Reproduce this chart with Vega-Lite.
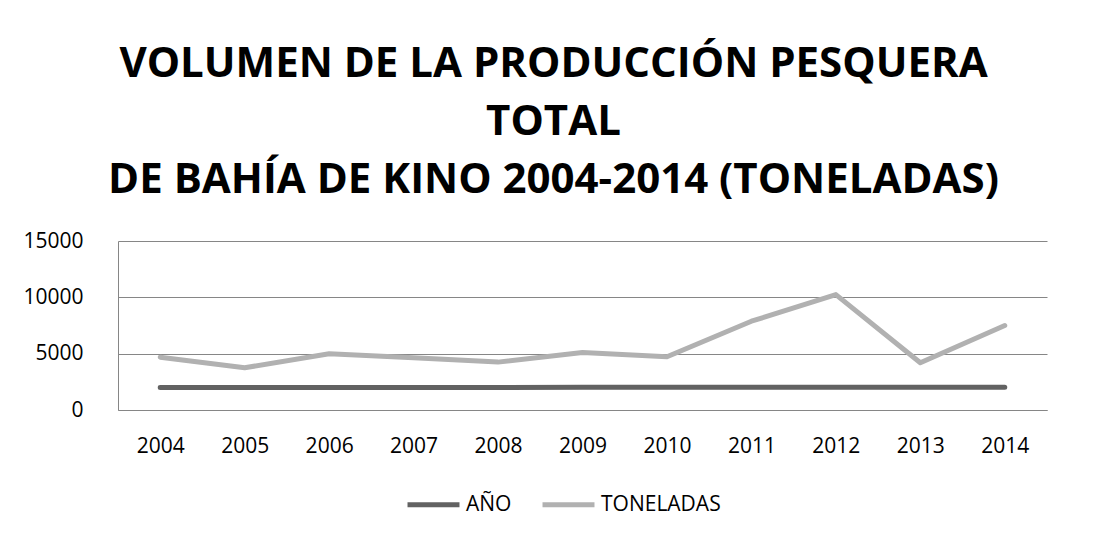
{
  "$schema": "https://vega.github.io/schema/vega-lite/v6.json",
  "autosize": {"type": "none"},
  "padding": {"left": 118, "top": 241, "right": 62, "bottom": 126},
  "width": 929,
  "height": 169,
  "background": "white",
  "title": {
    "text": ["VOLUMEN DE LA PRODUCCIÓN PESQUERA", "TOTAL", "DE BAHÍA DE KINO 2004-2014 (TONELADAS)"],
    "font": "Open Sans",
    "fontSize": 42,
    "fontWeight": "bold",
    "color": "black",
    "lineHeight": 58,
    "anchor": "middle",
    "dx": -29,
    "offset": 28
  },
  "data": {
    "values": [
      {"year": "2004", "serie": "AÑO", "value": 2004},
      {"year": "2005", "serie": "AÑO", "value": 2005},
      {"year": "2006", "serie": "AÑO", "value": 2006},
      {"year": "2007", "serie": "AÑO", "value": 2007},
      {"year": "2008", "serie": "AÑO", "value": 2008},
      {"year": "2009", "serie": "AÑO", "value": 2009},
      {"year": "2010", "serie": "AÑO", "value": 2010},
      {"year": "2011", "serie": "AÑO", "value": 2011},
      {"year": "2012", "serie": "AÑO", "value": 2012},
      {"year": "2013", "serie": "AÑO", "value": 2013},
      {"year": "2014", "serie": "AÑO", "value": 2014},
      {"year": "2004", "serie": "TONELADAS", "value": 4690},
      {"year": "2005", "serie": "TONELADAS", "value": 3750},
      {"year": "2006", "serie": "TONELADAS", "value": 4990},
      {"year": "2007", "serie": "TONELADAS", "value": 4640},
      {"year": "2008", "serie": "TONELADAS", "value": 4250},
      {"year": "2009", "serie": "TONELADAS", "value": 5100},
      {"year": "2010", "serie": "TONELADAS", "value": 4720},
      {"year": "2011", "serie": "TONELADAS", "value": 7880},
      {"year": "2012", "serie": "TONELADAS", "value": 10240},
      {"year": "2013", "serie": "TONELADAS", "value": 4190},
      {"year": "2014", "serie": "TONELADAS", "value": 7500}
    ]
  },
  "mark": {"type": "line", "strokeWidth": 5, "strokeCap": "round", "strokeJoin": "round"},
  "encoding": {
    "x": {
      "field": "year",
      "type": "ordinal",
      "scale": {"type": "point", "padding": 0.5},
      "axis": {
        "title": null,
        "labelAngle": 0,
        "labelFont": "Open Sans",
        "labelFontSize": 21,
        "labelColor": "black",
        "labelPadding": 25,
        "ticks": false,
        "domain": true,
        "domainColor": "#868686",
        "grid": false
      }
    },
    "y": {
      "field": "value",
      "type": "quantitative",
      "scale": {"domain": [0, 15000], "nice": false},
      "axis": {
        "title": null,
        "values": [0, 5000, 10000, 15000],
        "format": "d",
        "labelFont": "Open Sans",
        "labelFontSize": 21,
        "labelColor": "black",
        "labelPadding": 35,
        "ticks": false,
        "domain": true,
        "domainColor": "#868686",
        "grid": true,
        "gridColor": "#868686",
        "gridOpacity": 1,
        "gridWidth": 1
      }
    },
    "color": {
      "field": "serie",
      "type": "nominal",
      "scale": {"domain": ["AÑO", "TONELADAS"], "range": ["#626262", "#b1b1b1"]},
      "legend": {
        "title": null,
        "orient": "none",
        "direction": "horizontal",
        "legendX": 287,
        "legendY": 235,
        "symbolType": "stroke",
        "symbolSize": 2700,
        "symbolStrokeWidth": 5,
        "labelFont": "Open Sans",
        "labelFontSize": 21,
        "labelColor": "black",
        "labelOffset": 4,
        "columnPadding": 20
      }
    }
  },
  "config": {
    "view": {"stroke": null}
  }
}
